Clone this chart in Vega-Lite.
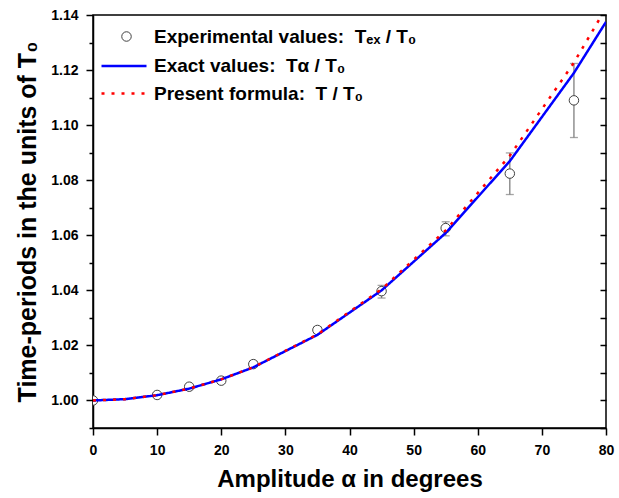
{
  "$schema": "https://vega.github.io/schema/vega-lite/v6.json",
  "width": 513,
  "height": 413,
  "autosize": {"type": "none"},
  "padding": {"left": 93, "top": 15, "right": 13, "bottom": 70},
  "background": "white",
  "config": {
    "font": "Liberation Sans",
    "view": {"stroke": "black", "strokeWidth": 1.5},
    "axis": {
      "grid": false,
      "domainColor": "black",
      "domainWidth": 1.5,
      "tickColor": "black",
      "tickWidth": 1.5,
      "labelFont": "Liberation Sans",
      "labelFontWeight": "bold",
      "labelFontSize": 14,
      "labelColor": "black",
      "titleFont": "Liberation Sans",
      "titleFontWeight": "bold",
      "titleFontSize": 24,
      "titleColor": "black"
    },
    "legend": {
      "labelFont": "Liberation Sans",
      "labelFontWeight": "bold",
      "labelFontSize": 19,
      "labelColor": "black",
      "labelLimit": 400
    }
  },
  "datasets": {
    "curves": [
      {"alpha": 0, "exact": 1.0, "present": 1.0},
      {"alpha": 5, "exact": 1.000476, "present": 1.000476},
      {"alpha": 10, "exact": 1.001907, "present": 1.001908},
      {"alpha": 15, "exact": 1.0043, "present": 1.004305},
      {"alpha": 20, "exact": 1.007669, "present": 1.007684},
      {"alpha": 25, "exact": 1.01203, "present": 1.012067},
      {"alpha": 35, "exact": 1.023834, "present": 1.023977},
      {"alpha": 45, "exact": 1.039973, "present": 1.040382},
      {"alpha": 55, "exact": 1.060829, "present": 1.061782},
      {"alpha": 65, "exact": 1.086923, "present": 1.088893},
      {"alpha": 75, "exact": 1.118959, "present": 1.122708},
      {"alpha": 80, "exact": 1.137492, "present": 1.142544}
    ],
    "exp": [
      {"alpha": 0, "t": 1.0, "lo": 1.0, "hi": 1.0},
      {"alpha": 10, "t": 1.002, "lo": 1.0014, "hi": 1.0026},
      {"alpha": 15, "t": 1.005, "lo": 1.0039, "hi": 1.0061},
      {"alpha": 20, "t": 1.0072, "lo": 1.0063, "hi": 1.0081},
      {"alpha": 25, "t": 1.0132, "lo": 1.0121, "hi": 1.0143},
      {"alpha": 35, "t": 1.0256, "lo": 1.0244, "hi": 1.0268},
      {"alpha": 45, "t": 1.0397, "lo": 1.0372, "hi": 1.0418},
      {"alpha": 55, "t": 1.0626, "lo": 1.0598, "hi": 1.0649},
      {"alpha": 65, "t": 1.0824, "lo": 1.0748, "hi": 1.0899},
      {"alpha": 75, "t": 1.109, "lo": 1.0955, "hi": 1.1224}
    ]
  },
  "layer": [
    {
      "data": {"name": "exp"},
      "transform": [{"filter": "datum.alpha > 0"}],
      "mark": {"type": "errorbar", "ticks": {"size": 8}, "color": "#7f7f7f", "thickness": 1.3},
      "encoding": {
        "x": {"field": "alpha", "type": "quantitative", "scale": {"domain": [0, 80], "nice": false, "zero": false}},
        "y": {"field": "lo", "type": "quantitative", "scale": {"domain": [0.99, 1.14], "nice": false, "zero": false}, "axis": null},
        "y2": {"field": "hi"}
      }
    },
    {
      "data": {"name": "exp"},
      "mark": {"type": "point", "filled": false, "fill": "white", "size": 90, "strokeWidth": 1, "opacity": 1, "clip": true},
      "encoding": {
        "x": {"field": "alpha", "type": "quantitative", "scale": {"domain": [0, 80], "nice": false, "zero": false}},
        "y": {"field": "t", "type": "quantitative", "scale": {"domain": [0.99, 1.14], "nice": false, "zero": false}, "axis": null},
        "color": {
          "datum": "Experimental values: \u00a0Tₑₓ / T₀",
          "type": "nominal",
          "scale": {"range": ["#404040"]},
          "legend": {"title": null, "orient": "none", "legendX": 7, "legendY": 12, "padding": 0, "symbolOffset": 17, "labelOffset": 18, "symbolSize": 90, "symbolStrokeWidth": 1}
        }
      }
    },
    {
      "data": {"name": "curves"},
      "mark": {"type": "line", "strokeWidth": 2.5, "clip": true},
      "encoding": {
        "x": {
          "field": "alpha", "type": "quantitative",
          "scale": {"domain": [0, 80], "nice": false, "zero": false},
          "axis": {
            "title": "Amplitude α in degrees",
            "values": [0, 5, 10, 15, 20, 25, 30, 35, 40, 45, 50, 55, 60, 65, 70, 75, 80],
            "labelExpr": "datum.value % 10 === 0 ? datum.label : ''",
            "tickSize": {"condition": {"test": "datum.value % 10 === 0", "value": 7}, "value": 4},
            "labelPadding": 8,
            "titlePadding": 10,
            "labelFlush": false,
            "labelOverlap": false
          }
        },
        "y": {
          "field": "exact", "type": "quantitative",
          "scale": {"domain": [0.99, 1.14], "nice": false, "zero": false},
          "axis": {
            "orient": "left",
            "title": "Time-periods in the units of T₀",
            "titleFontSize": 25,
            "values": [0.99, 1.0, 1.01, 1.02, 1.03, 1.04, 1.05, 1.06, 1.07, 1.08, 1.09, 1.1, 1.11, 1.12, 1.13, 1.14],
            "labelExpr": "round(datum.value * 100) % 2 === 0 ? format(datum.value, '.2f') : ''",
            "tickSize": {"condition": {"test": "round(datum.value * 100) % 2 === 0", "value": 7}, "value": 4},
            "labelPadding": 8,
            "titlePadding": 10,
            "labelFlush": false,
            "labelOverlap": false
          }
        },
        "stroke": {
          "datum": "Exact values: \u00a0Tα / T₀",
          "type": "nominal",
          "scale": {"domain": ["Exact values: \u00a0Tα / T₀", "Present formula: \u00a0T / T₀"], "range": ["#0000ff", "#ff0000"]},
          "legend": {"title": null, "orient": "none", "legendX": 7, "legendY": 41.5, "padding": 0, "symbolType": "stroke", "symbolSize": 2025, "symbolStrokeWidth": 2.5, "labelOffset": 6, "rowPadding": 7.5, "clipHeight": 19}
        },
        "strokeDash": {
          "datum": "Exact values: \u00a0Tα / T₀",
          "type": "nominal",
          "scale": {"domain": ["Exact values: \u00a0Tα / T₀", "Present formula: \u00a0T / T₀"], "range": [[1, 0], [3, 7]]},
          "legend": {"title": null, "orient": "none", "legendX": 7, "legendY": 41.5, "padding": 0, "symbolType": "stroke", "symbolSize": 2025, "symbolStrokeWidth": 2.5, "labelOffset": 6, "rowPadding": 7.5, "clipHeight": 19}
        }
      }
    },
    {
      "data": {"name": "curves"},
      "mark": {"type": "line", "strokeWidth": 2.5, "clip": true},
      "encoding": {
        "x": {"field": "alpha", "type": "quantitative", "scale": {"domain": [0, 80], "nice": false, "zero": false}},
        "y": {
          "field": "present", "type": "quantitative",
          "scale": {"domain": [0.99, 1.14], "nice": false, "zero": false},
          "axis": {
            "orient": "right",
            "title": null,
            "labels": false,
            "domain": false,
            "values": [0.99, 1.0, 1.01, 1.02, 1.03, 1.04, 1.05, 1.06, 1.07, 1.08, 1.09, 1.1, 1.11, 1.12, 1.13, 1.14],
            "tickSize": -6
          }
        },
        "stroke": {
          "datum": "Present formula: \u00a0T / T₀",
          "type": "nominal",
          "scale": {"domain": ["Exact values: \u00a0Tα / T₀", "Present formula: \u00a0T / T₀"], "range": ["#0000ff", "#ff0000"]},
          "legend": {"title": null, "orient": "none", "legendX": 7, "legendY": 41.5, "padding": 0, "symbolType": "stroke", "symbolSize": 2025, "symbolStrokeWidth": 2.5, "labelOffset": 6, "rowPadding": 7.5, "clipHeight": 19}
        },
        "strokeDash": {
          "datum": "Present formula: \u00a0T / T₀",
          "type": "nominal",
          "scale": {"domain": ["Exact values: \u00a0Tα / T₀", "Present formula: \u00a0T / T₀"], "range": [[1, 0], [3, 7]]},
          "legend": {"title": null, "orient": "none", "legendX": 7, "legendY": 41.5, "padding": 0, "symbolType": "stroke", "symbolSize": 2025, "symbolStrokeWidth": 2.5, "labelOffset": 6, "rowPadding": 7.5, "clipHeight": 19}
        }
      }
    }
  ],
  "resolve": {"axis": {"y": "independent"}}
}
